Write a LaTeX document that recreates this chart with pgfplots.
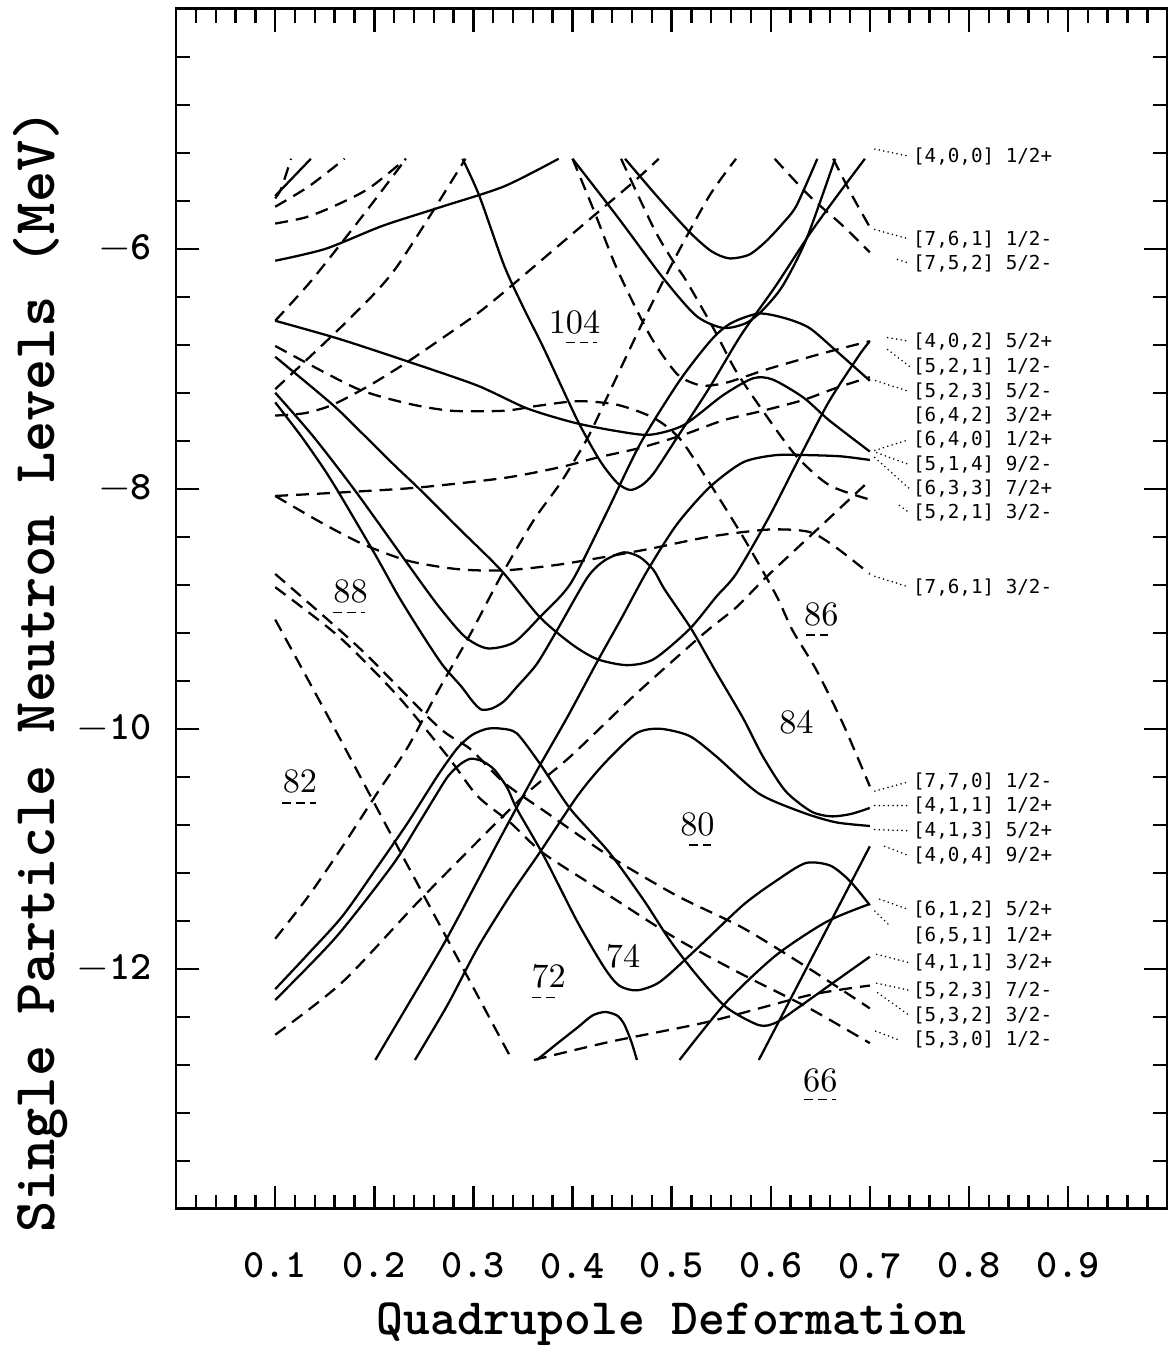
\documentclass[border=0pt]{standalone}
\usepackage{fontspec}
\usepackage{pgfplots}
\pgfplotsset{compat=1.18}
\newfontfamily\labfont{DejaVu Sans Mono}

\begin{document}
\begin{tikzpicture}
\tikzset{
  lv/.style={black, line width=0.65pt, smooth, tension=0.45},
  lvd/.style={lv, dash pattern=on 1.3mm off 0.8mm},
  lab/.style={anchor=west, inner sep=0pt, font=\labfont\fontsize{5.5}{6.5}\selectfont},
  ldr/.style={line width=0.5pt, dash pattern=on 0pt off 1.3pt, line cap=round},
  mag/.style={inner sep=0pt, font=\fontsize{9.8}{10}\selectfont},
  ul/.style={line width=0.4pt, dash pattern=on 0.9mm off 0.5mm},
}
\begin{axis}[
    scale only axis, width=99.6mm, height=120.6mm,
    xmin=0, xmax=1, ymin=-14, ymax=-4,
    clip=false,
    axis line style={line width=0.75pt},
    xtick={0.1,0.2,0.3,0.4,0.5,0.6,0.7,0.8,0.9},
    xticklabels={0.1,0.2,0.3,0.4,0.5,0.6,0.7,0.8,0.9},
    ytick={-12,-10,-8,-6},
    yticklabels={$-$12,$-$10,$-$8,$-$6},
    minor xtick={0.02,0.04,...,0.98},
    minor ytick={-13.6,-13.2,...,-4.4},
    major tick length=2.3mm, minor tick length=1.4mm,
    tick style={line width=0.7pt, black},
    tick align=inside,
    xticklabel style={yshift=-3.2mm},
    yticklabel style={xshift=-1.2mm},
    tick label style={font=\ttfamily\bfseries\fontsize{11.5}{13}\selectfont},
  ]
  % invisible frame, keeps the page at the reference proportions
  \path (axis cs:-0.1777,-3.927) rectangle (axis cs:1.004,-15.179);

  % ---- solid levels
  \addplot[lv] coordinates {(0.1,-5.56) (0.136,-5.25)};
  \addplot[lv] coordinates {(0.1,-6.10) (0.151,-6.00) (0.208,-5.81) (0.268,-5.65) (0.331,-5.48) (0.386,-5.25)};
  \addplot[lv] coordinates {(0.1,-6.60) (0.164,-6.75) (0.234,-6.94) (0.304,-7.14) (0.354,-7.33) (0.402,-7.45) (0.445,-7.52) (0.478,-7.55) (0.512,-7.47) (0.552,-7.22) (0.582,-7.08) (0.602,-7.09) (0.633,-7.24) (0.659,-7.43) (0.7,-7.69)};
  \addplot[lv] coordinates {(0.1,-6.90) (0.158,-7.30) (0.188,-7.54) (0.221,-7.81) (0.244,-7.99) (0.284,-8.32) (0.328,-8.68) (0.367,-9.07) (0.400,-9.30) (0.425,-9.42) (0.455,-9.47) (0.482,-9.42) (0.518,-9.17) (0.545,-8.90) (0.565,-8.71) (0.598,-8.24) (0.629,-7.74) (0.659,-7.27) (0.689,-6.89) (0.7,-6.77)};
  \addplot[lv] coordinates {(0.1,-7.20) (0.138,-7.56) (0.181,-8.02) (0.234,-8.63) (0.264,-8.97) (0.291,-9.23) (0.314,-9.33) (0.341,-9.28) (0.367,-9.07) (0.398,-8.79) (0.432,-8.24) (0.468,-7.63) (0.508,-7.10) (0.540,-6.76) (0.560,-6.62) (0.588,-6.54) (0.615,-6.58) (0.639,-6.66) (0.666,-6.85) (0.7,-7.10)};
  \addplot[lv] coordinates {(0.1,-7.28) (0.126,-7.56) (0.148,-7.82) (0.164,-8.03) (0.201,-8.55) (0.224,-8.89) (0.248,-9.21) (0.269,-9.47) (0.288,-9.65) (0.299,-9.77) (0.308,-9.84) (0.319,-9.83) (0.331,-9.77) (0.344,-9.65) (0.364,-9.46) (0.385,-9.17) (0.415,-8.74) (0.432,-8.60) (0.452,-8.53) (0.468,-8.57) (0.482,-8.68) (0.493,-8.84) (0.520,-9.17) (0.545,-9.53) (0.572,-9.91) (0.592,-10.23) (0.615,-10.52) (0.641,-10.69) (0.661,-10.73) (0.681,-10.71) (0.7,-10.66)};
  \addplot[lv] coordinates {(0.289,-5.25) (0.306,-5.56) (0.331,-6.14) (0.351,-6.50) (0.371,-6.83) (0.405,-7.43) (0.428,-7.77) (0.445,-7.95) (0.458,-8.01) (0.470,-7.97) (0.482,-7.87) (0.505,-7.58) (0.538,-7.16) (0.570,-6.72) (0.605,-6.31) (0.639,-5.88) (0.666,-5.57) (0.695,-5.25)};
  \addplot[lv] coordinates {(0.400,-5.25) (0.445,-5.73) (0.492,-6.25) (0.525,-6.56) (0.552,-6.66) (0.575,-6.62) (0.592,-6.51) (0.612,-6.31) (0.636,-5.92) (0.665,-5.25)};
  \addplot[lv] coordinates {(0.453,-5.25) (0.485,-5.56) (0.518,-5.86) (0.540,-6.02) (0.558,-6.08) (0.578,-6.05) (0.595,-5.94) (0.612,-5.79) (0.626,-5.64) (0.647,-5.25)};
  \addplot[lv] coordinates {(0.201,-12.76) (0.234,-12.30) (0.271,-11.78) (0.304,-11.27) (0.331,-10.85) (0.364,-10.35) (0.395,-9.90) (0.425,-9.44) (0.450,-9.07) (0.475,-8.69) (0.505,-8.30) (0.538,-7.99) (0.572,-7.78) (0.605,-7.72) (0.639,-7.72) (0.671,-7.73) (0.7,-7.76)};
  \addplot[lv] coordinates {(0.241,-12.76) (0.274,-12.30) (0.304,-11.83) (0.337,-11.39) (0.367,-11.03) (0.405,-10.56) (0.432,-10.29) (0.464,-10.04) (0.488,-10.00) (0.518,-10.06) (0.545,-10.23) (0.588,-10.54) (0.633,-10.70) (0.666,-10.78) (0.7,-10.81)};
  \addplot[lv] coordinates {(0.1,-12.17) (0.134,-11.87) (0.168,-11.56) (0.204,-11.14) (0.234,-10.78) (0.264,-10.39) (0.284,-10.16) (0.299,-10.05) (0.314,-10.00) (0.329,-10.00) (0.344,-10.04) (0.367,-10.29) (0.398,-10.67) (0.437,-11.03) (0.472,-11.43) (0.498,-11.76) (0.525,-12.05) (0.555,-12.32) (0.588,-12.47) (0.605,-12.45) (0.625,-12.34) (0.659,-12.14) (0.7,-11.90)};
  \addplot[lv] coordinates {(0.1,-12.26) (0.161,-11.74) (0.218,-11.14) (0.244,-10.80) (0.261,-10.57) (0.274,-10.40) (0.286,-10.30) (0.297,-10.25) (0.309,-10.27) (0.321,-10.34) (0.334,-10.49) (0.344,-10.67) (0.371,-11.06) (0.405,-11.61) (0.432,-11.99) (0.447,-12.14) (0.465,-12.18) (0.488,-12.11) (0.522,-11.86) (0.572,-11.47) (0.605,-11.27) (0.635,-11.12) (0.660,-11.14) (0.680,-11.27) (0.7,-11.47)};
  \addplot[lv] coordinates {(0.364,-12.76) (0.385,-12.62) (0.405,-12.49) (0.420,-12.39) (0.433,-12.36) (0.445,-12.39) (0.452,-12.46) (0.459,-12.60) (0.465,-12.76)};
  \addplot[lv] coordinates {(0.508,-12.76) (0.555,-12.28) (0.605,-11.89) (0.656,-11.61) (0.7,-11.46)};
  \addplot[lv] coordinates {(0.588,-12.76) (0.644,-11.87) (0.7,-10.98)};

  % ---- dashed levels
  \addplot[lvd] coordinates {(0.1,-5.58) (0.106,-5.50) (0.116,-5.25)};
  \addplot[lvd] coordinates {(0.1,-5.65) (0.134,-5.48) (0.170,-5.25)};
  \addplot[lvd] coordinates {(0.1,-5.79) (0.13,-5.74) (0.158,-5.65) (0.194,-5.50) (0.232,-5.25)};
  \addplot[lvd] coordinates {(0.1,-6.60) (0.134,-6.29) (0.168,-5.94) (0.199,-5.61) (0.232,-5.25)};
  \addplot[lvd] coordinates {(0.1,-7.17) (0.168,-6.64) (0.221,-6.17) (0.292,-5.25)};
  \addplot[lvd] coordinates {(0.1,-7.39) (0.13,-7.37) (0.158,-7.30) (0.195,-7.14) (0.234,-6.94) (0.28,-6.68) (0.304,-6.54) (0.331,-6.36) (0.405,-5.84) (0.462,-5.44) (0.487,-5.25)};
  \addplot[lvd] coordinates {(0.1,-6.81) (0.181,-7.16) (0.234,-7.29) (0.278,-7.35) (0.331,-7.35) (0.364,-7.31) (0.405,-7.27) (0.445,-7.30) (0.482,-7.41) (0.508,-7.58) (0.535,-7.91) (0.572,-8.40) (0.605,-8.88) (0.622,-9.18) (0.646,-9.51) (0.673,-9.96) (0.7,-10.48)};
  \addplot[lvd] coordinates {(0.1,-8.06) (0.168,-8.03) (0.244,-7.99) (0.331,-7.91) (0.388,-7.82) (0.425,-7.74) (0.468,-7.66) (0.512,-7.55) (0.552,-7.43) (0.592,-7.35) (0.633,-7.26) (0.666,-7.16) (0.7,-7.07)};
  \addplot[lvd] coordinates {(0.1,-8.06) (0.146,-8.28) (0.188,-8.46) (0.234,-8.60) (0.284,-8.67) (0.331,-8.68) (0.388,-8.63) (0.472,-8.51) (0.538,-8.40) (0.598,-8.34) (0.639,-8.36) (0.666,-8.49) (0.7,-8.71)};
  \addplot[lvd] coordinates {(0.400,-5.25) (0.422,-5.69) (0.445,-6.17) (0.478,-6.72) (0.505,-7.04) (0.525,-7.13) (0.538,-7.14) (0.558,-7.11) (0.598,-7.00) (0.653,-6.87) (0.7,-6.77)};
  \addplot[lvd] coordinates {(0.449,-5.25) (0.482,-5.83) (0.502,-6.11) (0.515,-6.27) (0.542,-6.66) (0.565,-7.02) (0.592,-7.35) (0.625,-7.72) (0.659,-7.97) (0.7,-8.09)};
  \addplot[lvd] coordinates {(0.604,-5.25) (0.639,-5.56) (0.673,-5.81) (0.7,-6.03)};
  \addplot[lvd] coordinates {(0.663,-5.25) (0.681,-5.54) (0.7,-5.82)};
  \addplot[lvd] coordinates {(0.1,-11.75) (0.134,-11.39) (0.168,-10.98) (0.201,-10.56) (0.234,-10.15) (0.264,-9.69) (0.297,-9.21) (0.327,-8.74) (0.361,-8.26) (0.388,-7.95) (0.415,-7.58) (0.437,-7.20) (0.468,-6.66) (0.502,-6.10) (0.538,-5.56) (0.565,-5.25)};
  \addplot[lvd] coordinates {(0.1,-9.09) (0.16,-10.00) (0.22,-10.93) (0.28,-11.85) (0.339,-12.76)};
  \addplot[lvd] coordinates {(0.1,-8.71) (0.184,-9.32) (0.264,-9.98) (0.297,-10.17) (0.331,-10.45) (0.374,-10.70) (0.437,-11.06) (0.505,-11.39) (0.572,-11.66) (0.639,-12.00) (0.7,-12.33)};
  \addplot[lvd] coordinates {(0.1,-8.82) (0.164,-9.23) (0.224,-9.73) (0.274,-10.23) (0.304,-10.56) (0.337,-10.78) (0.371,-11.04) (0.437,-11.39) (0.505,-11.75) (0.572,-12.05) (0.639,-12.33) (0.7,-12.62)};
  \addplot[lvd] coordinates {(0.1,-12.55) (0.168,-12.11) (0.248,-11.41) (0.347,-10.59) (0.398,-10.23) (0.464,-9.71) (0.532,-9.21) (0.565,-8.99) (0.595,-8.74) (0.639,-8.40) (0.7,-7.93)};
  \addplot[lvd] coordinates {(0.361,-12.76) (0.437,-12.61) (0.538,-12.44) (0.639,-12.22) (0.7,-12.14)};

  % ---- magic numbers
  \node[mag] at (axis cs:0.402,-6.61) {104};
  \node[mag] at (axis cs:0.176,-8.86) {88};
  \node[mag] at (axis cs:0.651,-9.05) {86};
  \node[mag] at (axis cs:0.626,-9.95) {84};
  \node[mag] at (axis cs:0.125,-10.44) {82};
  \node[mag] at (axis cs:0.526,-10.80) {80};
  \node[mag] at (axis cs:0.451,-11.90) {74};
  \node[mag] at (axis cs:0.376,-12.06) {72};
  \node[mag] at (axis cs:0.650,-12.93) {66};
  \draw[ul] (axis cs:0.393,-6.78) -- (axis cs:0.425,-6.78);
  \draw[ul] (axis cs:0.158,-9.03) -- (axis cs:0.191,-9.03);
  \draw[ul] (axis cs:0.636,-9.22) -- (axis cs:0.658,-9.22);
  \draw[ul] (axis cs:0.107,-10.62) -- (axis cs:0.141,-10.62);
  \draw[ul] (axis cs:0.518,-10.97) -- (axis cs:0.540,-10.97);
  \draw[ul] (axis cs:0.359,-12.24) -- (axis cs:0.383,-12.24);
  \draw[ul] (axis cs:0.634,-13.09) -- (axis cs:0.666,-13.09);

  % ---- orbital labels with leaders
  \draw[ldr] (axis cs:0.705,-5.17) -- (axis cs:0.740,-5.23);
  \node[lab] at (axis cs:0.743,-5.23) {[4,0,0] 1/2+};
  \draw[ldr] (axis cs:0.705,-5.84) -- (axis cs:0.740,-5.92);
  \node[lab] at (axis cs:0.743,-5.92) {[7,6,1] 1/2-};
  \draw[ldr] (axis cs:0.728,-6.09) -- (axis cs:0.740,-6.12);
  \node[lab] at (axis cs:0.743,-6.12) {[7,5,2] 5/2-};
  \draw[ldr] (axis cs:0.718,-6.74) -- (axis cs:0.740,-6.77);
  \node[lab] at (axis cs:0.743,-6.77) {[4,0,2] 5/2+};
  \draw[ldr] (axis cs:0.718,-6.84) -- (axis cs:0.740,-6.98);
  \node[lab] at (axis cs:0.743,-6.98) {[5,2,1] 1/2-};
  \draw[ldr] (axis cs:0.706,-7.10) -- (axis cs:0.740,-7.19);
  \node[lab] at (axis cs:0.743,-7.19) {[5,2,3] 5/2-};
  \node[lab] at (axis cs:0.743,-7.39) {[6,4,2] 3/2+};
  \draw[ldr] (axis cs:0.705,-7.68) -- (axis cs:0.740,-7.59);
  \node[lab] at (axis cs:0.743,-7.59) {[6,4,0] 1/2+};
  \draw[ldr] (axis cs:0.707,-7.70) -- (axis cs:0.740,-7.80);
  \node[lab] at (axis cs:0.743,-7.80) {[5,1,4] 9/2-};
  \draw[ldr] (axis cs:0.705,-7.74) -- (axis cs:0.740,-8.00);
  \node[lab] at (axis cs:0.743,-8.00) {[6,3,3] 7/2+};
  \draw[ldr] (axis cs:0.730,-8.14) -- (axis cs:0.740,-8.20);
  \node[lab] at (axis cs:0.743,-8.20) {[5,2,1] 3/2-};
  \draw[ldr] (axis cs:0.705,-8.73) -- (axis cs:0.740,-8.82);
  \node[lab] at (axis cs:0.743,-8.82) {[7,6,1] 3/2-};
  \draw[ldr] (axis cs:0.705,-10.52) -- (axis cs:0.740,-10.44);
  \node[lab] at (axis cs:0.743,-10.44) {[7,7,0] 1/2-};
  \draw[ldr] (axis cs:0.705,-10.64) -- (axis cs:0.740,-10.64);
  \node[lab] at (axis cs:0.743,-10.64) {[4,1,1] 1/2+};
  \draw[ldr] (axis cs:0.705,-10.84) -- (axis cs:0.740,-10.85);
  \node[lab] at (axis cs:0.743,-10.85) {[4,1,3] 5/2+};
  \draw[ldr] (axis cs:0.715,-10.98) -- (axis cs:0.740,-11.06);
  \node[lab] at (axis cs:0.743,-11.06) {[4,0,4] 9/2+};
  \draw[ldr] (axis cs:0.710,-11.42) -- (axis cs:0.740,-11.51);
  \node[lab] at (axis cs:0.743,-11.51) {[6,1,2] 5/2+};
  \draw[ldr] (axis cs:0.705,-11.52) -- (axis cs:0.720,-11.64);
  \node[lab] at (axis cs:0.743,-11.72) {[6,5,1] 1/2+};
  \draw[ldr] (axis cs:0.707,-11.88) -- (axis cs:0.740,-11.95);
  \node[lab] at (axis cs:0.743,-11.95) {[4,1,1] 3/2+};
  \draw[ldr] (axis cs:0.707,-12.12) -- (axis cs:0.740,-12.18);
  \node[lab] at (axis cs:0.743,-12.18) {[5,2,3] 7/2-};
  \draw[ldr] (axis cs:0.708,-12.20) -- (axis cs:0.740,-12.39);
  \node[lab] at (axis cs:0.743,-12.39) {[5,3,2] 3/2-};
  \draw[ldr] (axis cs:0.706,-12.52) -- (axis cs:0.728,-12.59);
  \node[lab] at (axis cs:0.743,-12.59) {[5,3,0] 1/2-};

  % ---- axis titles
  \node[font=\ttfamily\bfseries\fontsize{14.6}{16}\selectfont] at (axis cs:0.5,-14.96) {Quadrupole Deformation};
  \node[rotate=90, font=\ttfamily\bfseries\fontsize{17}{18}\selectfont] at (axis cs:-0.1365,-9.52) {Single Particle Neutron Levels (MeV)};
\end{axis}
\end{tikzpicture}
\end{document}
